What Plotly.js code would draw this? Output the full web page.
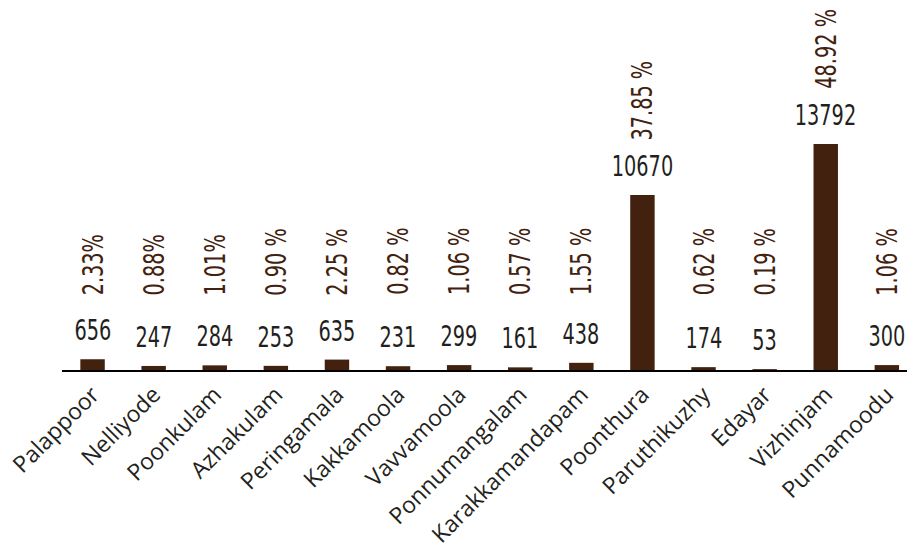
<!DOCTYPE html>
<html>
<head>
<meta charset="utf-8">
<script src="https://cdn.plot.ly/plotly-3.0.1.min.js"></script>
<style>
html,body{margin:0;padding:0;background:#fff;}
#chart{width:907px;height:554px;}
.annotation-text{font-stretch:condensed;}
</style>
</head>
<body>
<div id="chart"></div>
<script>
const categories = ["Palappoor","Nelliyode","Poonkulam","Azhakulam","Peringamala","Kakkamoola","Vavvamoola","Ponnumangalam","Karakkamandapam","Poonthura","Paruthikuzhy","Edayar","Vizhinjam","Punnamoodu"];
const values = [656,247,284,253,635,231,299,161,438,10670,174,53,13792,300];
const percentLabels = ["2.33%","0.88%","1.01%","0.90 %","2.25 %","0.82 %","1.06 %","0.57 %","1.55 %","37.85 %","0.62 %","0.19 %","48.92 %","1.06 %"];

const barColor = "#42210f";
const numFont = "'DejaVu Sans Condensed', 'DejaVu Sans', sans-serif";
const labelSize = 29;
const squeeze = 0.74;

const annotations = [];
categories.forEach((c, i) => {
  annotations.push({
    x: c, y: values[i], xref: "x", yref: "y",
    text: String(values[i]), showarrow: false,
    yanchor: "bottom", yshift: 10,
    font: {family: numFont, size: labelSize, color: "#231f20"}
  });
  annotations.push({
    x: c, y: Math.max(values[i], 1200), xref: "x", yref: "y",
    text: percentLabels[i], showarrow: false,
    textangle: -90, yanchor: "bottom", yshift: 53,
    font: {family: numFont, size: labelSize, color: "#42210f"}
  });
});

const trace = {
  type: "bar",
  x: categories,
  y: values,
  marker: {color: barColor},
  hoverinfo: "skip"
};

const layout = {
  width: 907, height: 554,
  margin: {l: 62, r: 0, t: 0, b: 184},
  paper_bgcolor: "#fff", plot_bgcolor: "#fff",
  bargap: 0.6,
  showlegend: false,
  xaxis: {
    type: "category",
    range: [-0.5, 13.33],
    showline: true, linecolor: "#000", linewidth: 2,
    ticks: "", tickangle: -45,
    tickfont: {family: "'Open Sans', sans-serif", size: 23, color: "#231f20"},
    showgrid: false, zeroline: false, fixedrange: true
  },
  yaxis: {
    range: [0, 22575],
    visible: false, showgrid: false, zeroline: false, fixedrange: true
  },
  annotations: annotations
};

Plotly.newPlot("chart", [trace], layout, {displayModeBar: false, staticPlot: true}).then(() => {
  document.querySelectorAll("#chart g.annotation").forEach(g => {
    const idx = +g.getAttribute("data-index");
    const t = g.querySelector("text.annotation-text");
    if (!t) return;
    t.style.transformBox = "fill-box";
    t.style.transformOrigin = (idx % 2 === 1) ? "left center" : "center center";
    t.style.transform = "scaleX(" + squeeze + ")";
  });
});
</script>
</body>
</html>
